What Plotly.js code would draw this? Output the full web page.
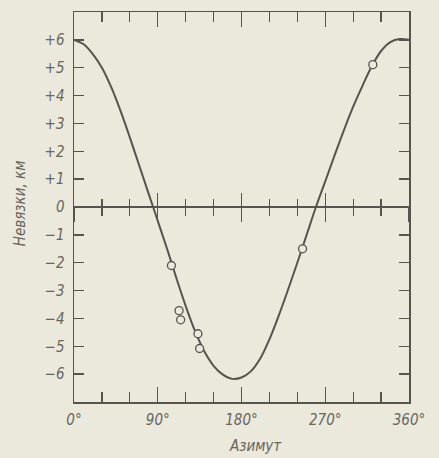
<!DOCTYPE html>
<html>
<head>
<meta charset="utf-8">
<script src="https://cdn.plot.ly/plotly-3.0.1.min.js"></script>
<style>
  html, body { margin: 0; padding: 0; background: #ebe8dc; }
  #chart { width: 439px; height: 458px; }
</style>
</head>
<body>
<div id="chart"></div>
<script>
// Curve (azimuth in degrees, residual in km)
const curveAzimuth = [0, 10, 20, 30, 40, 50, 60, 70, 80, 90, 100, 110, 120, 130, 140, 150, 160, 170, 180, 190, 200, 210, 220, 230, 240, 250, 260, 270, 280, 290, 300, 310, 320, 330, 340, 350, 360];
const curveResidual = [6.00, 5.85, 5.50, 5.00, 4.30, 3.45, 2.50, 1.50, 0.50, -0.50, -1.50, -2.55, -3.55, -4.45, -5.18, -5.70, -6.02, -6.17, -6.12, -5.90, -5.45, -4.75, -3.90, -2.97, -2.00, -1.00, 0.00, 0.92, 1.85, 2.75, 3.60, 4.35, 5.05, 5.60, 5.92, 6.03, 6.00];

// Observed points
const obsAzimuth = [104.7, 112.9, 114.6, 133.2, 135.0, 245.6, 321.1];
const obsResidual = [-2.10, -3.72, -4.05, -4.55, -5.08, -1.50, 5.11];

// Tick labels
const yTickVals = [-6, -5, -4, -3, -2, -1, 0, 1, 2, 3, 4, 5, 6];
const yTickText = ["\u22126", "\u22125", "\u22124", "\u22123", "\u22122", "\u22121", "0", "+1", "+2", "+3", "+4", "+5", "+6"];

const bg = "#ebe8dc";
const ink = "#55554f";
const textInk = "#66665f";
const fam = "DejaVu Sans Condensed, Liberation Sans Narrow, DejaVu Sans, sans-serif";
const tickFont = { family: fam, size: 15, color: textInk, style: "italic" };

const traces = [
  { x: curveAzimuth, y: curveResidual, mode: "lines", line: { color: ink, width: 2, shape: "spline", smoothing: 1 }, hoverinfo: "skip", showlegend: false },
  { x: obsAzimuth, y: obsResidual, mode: "markers", marker: { symbol: "circle", size: 8, color: bg, line: { color: ink, width: 1.3 } }, showlegend: false },
  { x: [null], y: [null], xaxis: "x2", yaxis: "y", showlegend: false, hoverinfo: "skip" },
  { x: [null], y: [null], xaxis: "x3", yaxis: "y", showlegend: false, hoverinfo: "skip" }
];

const zeroAxis = (dir) => ({
  overlaying: "x", anchor: "free", position: 0.5, range: [0, 360],
  showline: false, showgrid: false, zeroline: false, showticklabels: false,
  ticks: dir, dtick: 90, tick0: 0, ticklen: 14, tickwidth: 1.3, tickcolor: ink,
  minor: { ticks: dir, dtick: 30, tick0: 0, ticklen: 8, tickwidth: 1.3, tickcolor: ink, showgrid: false }
});

const layout = {
  width: 439, height: 458,
  margin: { l: 74, r: 30, t: 12, b: 56 },
  paper_bgcolor: bg, plot_bgcolor: bg,
  showlegend: false,
  xaxis: {
    range: [0, 360], showline: true, linecolor: ink, linewidth: 1.5, mirror: "ticks",
    showgrid: false, zeroline: false,
    ticks: "inside", dtick: 90, tick0: 0, ticklen: 15, tickwidth: 1.3, tickcolor: ink,
    ticksuffix: "°", tickfont: tickFont, ticklabelstandoff: 3,
    minor: { ticks: "inside", dtick: 30, tick0: 0, ticklen: 10, tickwidth: 1.3, tickcolor: ink, showgrid: false }
  },
  xaxis2: zeroAxis("inside"),
  xaxis3: zeroAxis("outside"),
  yaxis: {
    range: [-7, 7], showline: true, linecolor: ink, linewidth: 1.5, mirror: "ticks",
    showgrid: false, zeroline: true, zerolinecolor: ink, zerolinewidth: 1.5,
    ticks: "inside", tickvals: yTickVals, ticktext: yTickText, ticklen: 10, tickwidth: 1.3, tickcolor: ink,
    tickfont: tickFont, ticklabelstandoff: 5
  },
  annotations: [
    { text: "Невязки, км", xref: "paper", yref: "paper", x: -0.161, y: 0.51, textangle: -90, showarrow: false,
      xanchor: "center", yanchor: "middle", font: { family: fam, size: 15, color: textInk, style: "italic" } },
    { text: "Азимут", xref: "paper", yref: "paper", x: 0.543, y: -0.113, showarrow: false,
      xanchor: "center", yanchor: "middle", font: { family: fam, size: 15, color: textInk, style: "italic" } }
  ]
};

Plotly.newPlot("chart", traces, layout, { displayModeBar: false, staticPlot: true });
</script>
</body>
</html>
